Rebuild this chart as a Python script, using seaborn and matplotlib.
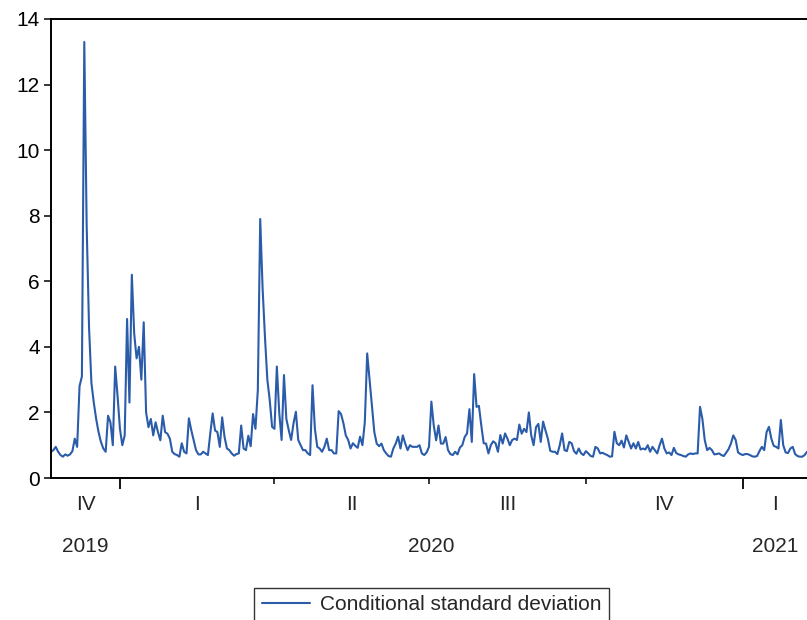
import numpy as np
import pandas as pd
import matplotlib
matplotlib.use("Agg")
import matplotlib.pyplot as plt
import seaborn as sns
from matplotlib.transforms import blended_transform_factory

# ---------------- data ----------------
start_date = "2019-11-21"          # first observation (daily, 5-day week)
series_name = "Conditional standard deviation"
roman = ["I", "II", "III", "IV"]

cond_sd = [
    0.80, 0.85, 0.95, 0.80, 0.70, 0.65, 0.72, 0.68, 0.72, 0.82,
    1.20, 0.95, 2.80, 3.10, 13.30, 7.70, 4.60, 2.90, 2.30, 1.80,
    1.40, 1.10, 0.90, 0.80, 1.90, 1.70, 1.00, 3.40, 2.50, 1.50,
    1.00, 1.30, 4.85, 2.30, 6.20, 4.40, 3.65, 4.00, 3.00, 4.75,
    2.00, 1.55, 1.80, 1.30, 1.70, 1.40, 1.15, 1.90, 1.40, 1.35,
    1.20, 0.80, 0.73, 0.70, 0.65, 1.06, 0.80, 0.75, 1.82, 1.46,
    1.16, 0.85, 0.72, 0.72, 0.80, 0.75, 0.70, 1.36, 1.97, 1.45,
    1.40, 0.95, 1.85, 1.25, 0.90, 0.85, 0.75, 0.68, 0.73, 0.75,
    1.60, 0.90, 0.85, 1.29, 0.97, 1.95, 1.50, 2.68, 7.90, 5.80,
    4.30, 3.00, 2.38, 1.56, 1.50, 3.40, 2.00, 1.16, 3.14, 1.80,
    1.46, 1.16, 1.66, 2.02, 1.16, 1.00, 0.85, 0.85, 0.75, 0.70,
    2.83, 1.50, 0.95, 0.90, 0.80, 0.95, 1.20, 0.85, 0.85, 0.75,
    0.75, 2.04, 1.95, 1.67, 1.30, 1.16, 0.90, 1.06, 0.98, 0.92,
    1.26, 1.00, 1.70, 3.80, 3.00, 2.20, 1.40, 1.05, 0.97, 1.05,
    0.85, 0.75, 0.67, 0.65, 0.90, 1.05, 1.26, 0.90, 1.30, 1.05,
    0.85, 1.00, 0.95, 0.95, 0.95, 1.00, 0.75, 0.70, 0.78, 0.95,
    2.33, 1.60, 1.15, 1.60, 1.05, 1.05, 1.25, 0.85, 0.73, 0.70,
    0.80, 0.72, 0.93, 1.00, 1.25, 1.36, 2.10, 1.10, 3.17, 2.17,
    2.20, 1.60, 1.06, 1.05, 0.75, 1.00, 1.12, 1.06, 0.80, 1.31,
    1.05, 1.36, 1.20, 1.00, 1.16, 1.20, 1.16, 1.63, 1.35, 1.50,
    1.40, 2.00, 1.30, 1.00, 1.55, 1.65, 1.10, 1.72, 1.45, 1.20,
    0.83, 0.80, 0.80, 0.73, 1.00, 1.36, 0.85, 0.82, 1.10, 1.06,
    0.82, 0.74, 0.90, 0.75, 0.70, 0.82, 0.75, 0.67, 0.65, 0.95,
    0.90, 0.75, 0.77, 0.73, 0.70, 0.65, 0.66, 1.41, 1.06, 1.00,
    1.14, 0.93, 1.30, 1.10, 0.90, 1.06, 0.90, 1.10, 0.87, 0.90,
    0.87, 1.00, 0.80, 0.95, 0.85, 0.75, 1.00, 1.20, 0.90, 0.75,
    0.78, 0.70, 0.92, 0.76, 0.72, 0.70, 0.67, 0.65, 0.72, 0.75,
    0.73, 0.75, 0.75, 2.17, 1.80, 1.15, 0.85, 0.92, 0.85, 0.72,
    0.73, 0.75, 0.70, 0.67, 0.77, 0.88, 1.05, 1.30, 1.16, 0.78,
    0.73, 0.70, 0.73, 0.73, 0.70, 0.66, 0.65, 0.67, 0.82, 0.95,
    0.85, 1.40, 1.56, 1.20, 0.98, 0.95, 0.90, 1.77, 1.00, 0.78,
    0.76, 0.90, 0.95, 0.73, 0.67, 0.65, 0.65, 0.70, 0.80,
]
y_ticks = [0, 2, 4, 6, 8, 10, 12, 14]

# ---------------- build frame ----------------
n = len(cond_sd)
dates = pd.bdate_range(start_date, periods=n)
df = pd.DataFrame({"obs": np.arange(n), "sd": cond_sd, "date": dates})

sns.set_style("white")
plt.rcParams["font.family"] = ["Liberation Sans Narrow", "Liberation Sans", "DejaVu Sans"]

W, H = 807, 620
fig = plt.figure(figsize=(W / 100, H / 100), dpi=100)
ax = fig.add_axes([51 / W, 1 - 478 / H, (W - 51) / W, (478 - 19) / H])

line_color = "#2a5caa"
sns.lineplot(data=df, x="obs", y="sd", ax=ax, color=line_color,
             linewidth=1.5, label=series_name, legend=False)

ax.set_xlim(0, n - 1)
ax.set_ylim(y_ticks[0], y_ticks[-1])
ax.set_yticks(y_ticks)
ax.set_xlabel("")
ax.set_ylabel("")

for side in ["left", "bottom", "top"]:
    ax.spines[side].set_color("black")
    ax.spines[side].set_linewidth(1.4)
ax.spines["right"].set_visible(False)

ax.tick_params(axis="y", direction="out", length=5, width=1.1,
               labelsize=15, pad=3, left=True, colors="black")

# quarter / year boundaries
q = dates.to_period("Q")
yr = dates.year
q_starts = [i for i in range(1, n) if q[i] != q[i - 1]]
y_starts = [i for i in range(1, n) if yr[i] != yr[i - 1]]
minor_starts = [i for i in q_starts if i not in y_starts]
ax.set_xticks(y_starts)
ax.set_xticks(minor_starts, minor=True)
ax.set_xticklabels([])
ax.tick_params(axis="x", which="major", direction="out", length=8, width=1.3,
               bottom=True, colors="black")
ax.tick_params(axis="x", which="minor", direction="out", length=4, width=1.1,
               bottom=True, colors="black")

trans = blended_transform_factory(ax.transData, ax.transAxes)
ax_h = 478 - 19
bounds = [0] + q_starts + [n - 1]
for a, b in zip(bounds[:-1], bounds[1:]):
    lab = roman[q[a].quarter - 1]
    ax.text((a + b) / 2, -(505 - 478) / ax_h, lab, transform=trans,
            ha="center", va="center", fontsize=15)
ybounds = [0] + y_starts + [n - 1]
for a, b in zip(ybounds[:-1], ybounds[1:]):
    ax.text((a + b) / 2, -(547 - 478) / ax_h, str(yr[a]), transform=trans,
            ha="center", va="center", fontsize=15)

handles, labels = ax.get_legend_handles_labels()
leg = fig.legend(handles, labels, loc="upper center",
                 bbox_to_anchor=(431.5 / W, 1 - 588 / H),
                 frameon=True, fancybox=False, edgecolor="black",
                 fontsize=15, handlelength=2.3, handletextpad=0.5,
                 borderpad=0.35, borderaxespad=0)
leg.get_frame().set_linewidth(1.0)

fig.savefig("out.png", dpi=100)
